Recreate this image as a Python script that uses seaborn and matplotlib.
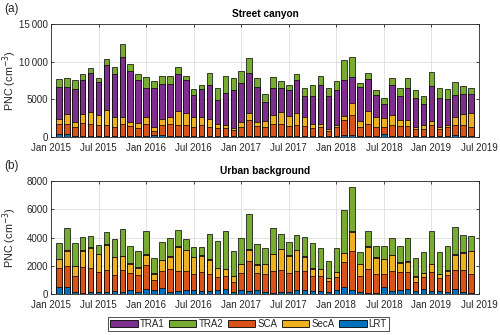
import numpy as np
import pandas as pd
import matplotlib.pyplot as plt
from matplotlib.patches import Patch
import seaborn as sns

# -------- data: monthly mean PNC contributions (cm-3), Jan 2015 - May 2019 --------
months = pd.date_range('2015-01-01', periods=53, freq='MS')

# street canyon
sc_lrt = [350, 350, 90, 90, 90, 90, 90, 130, 90, 130, 90, 180, 220, 310, 130, 180, 130, 180,
          130, 90, 130, 180, 90, 180, 180, 130, 90, 90, 130, 90, 130, 90, 90, 90, 90, 130,
          310, 310, 90, 90, 90, 350, 90, 130, 180, 130, 90, 180, 90, 130, 270, 90, 90]
sc_sca = [1330, 1420, 1190, 1770, 1680, 1460, 1460, 1150, 1590, 1370, 1060, 1590, 620, 1280,
          1640, 1410, 1420, 1150, 1460, 1280, 1020, 1010, 840, 1190, 2070, 1330, 1280, 1590,
          1550, 1410, 1420, 1410, 1150, 1190, 750, 1240, 1900, 2650, 1190, 1680, 1280, 930,
          1550, 1370, 1320, 890, 930, 1370, 970, 1200, 1320, 1550, 1280]
sc_seca = [710, 1280, 710, 1190, 1550, 1410, 2070, 1330, 970, 530, 750, 930, 530, 750, 880,
           1900, 1680, 1280, 1110, 1060, 620, 400, 310, 660, 930, 570, 800, 1240, 1590, 1280,
           1630, 1110, 480, 440, 220, 220, 570, 1550, 840, 1680, 1240, 1200, 1280, 750, 750,
           260, 530, 620, 310, 310, 1060, 1370, 1810]
sc_tra1 = [4280, 3620, 4330, 4460, 5170, 4380, 5970, 5790, 8000, 6770, 5610, 3840, 5170, 4640,
           4420, 4860, 4280, 3000, 3660, 4510, 3180, 4290, 5040, 5170, 5390, 4600, 2520, 3620,
           3270, 3410, 4330, 2780, 3760, 5220, 4420, 4600, 4780, 3490, 4550, 4240, 2960, 1940,
           3980, 3230, 4200, 3940, 2780, 4550, 3850, 3350, 2960, 2740, 2570]
sc_tra2 = [1020, 1200, 1190, 800, 700, 480, 840, 930, 1730, 920, 890, 1460, 890, 1110, 1020,
           890, 620, 710, 580, 1500, 1500, 2250, 1500, 1550, 1950, 1240, 970, 1420, 890, 710,
           890, 1060, 1420, 1150, 970, 1240, 2610, 2610, 530, 880, 710, 800, 880, 970, 1330,
           1060, 1060, 1940, 1230, 1370, 1730, 1060, 790]

# urban background
ub_lrt = [540, 470, 160, 70, 120, 120, 160, 210, 160, 260, 120, 350, 280, 400, 160, 210, 260,
          260, 190, 190, 260, 330, 140, 260, 210, 260, 140, 70, 120, 140, 280, 260, 190, 210,
          160, 260, 470, 280, 120, 90, 50, 470, 190, 280, 330, 210, 330, 190, 210, 120, 380,
          120, 70]
ub_sca = [1320, 1500, 1130, 1830, 1760, 1430, 1530, 1130, 1580, 1240, 1220, 1690, 750, 1270,
          1650, 1440, 1390, 1200, 1410, 1220, 940, 990, 730, 1220, 2160, 1240, 1290, 1600, 1620,
          1360, 1370, 1360, 1060, 1080, 760, 960, 1830, 2800, 1200, 1720, 1380, 940, 1480, 1290,
          1240, 660, 850, 1380, 920, 1220, 1310, 1620, 1390]
ub_seca = [610, 1120, 690, 1160, 1420, 1280, 1790, 1280, 950, 620, 520, 760, 410, 730, 830,
           1720, 1460, 1160, 1110, 1020, 640, 450, 380, 620, 760, 580, 690, 1160, 1440, 1230,
           1460, 1040, 540, 480, 190, 340, 600, 1320, 800, 1530, 1140, 1060, 1090, 670, 720,
           360, 310, 550, 290, 310, 1090, 1200, 1580]
ub_tra1 = [40, 40, 40, 40, 40, 40, 40, 40, 40, 100, 40, 40, 40, 40, 40, 40, 40, 40, 40, 40,
           40, 40, 40, 40, 40, 40, 40, 40, 40, 40, 40, 40, 40, 40, 40, 40, 40, 40, 40, 40, 40,
           40, 40, 40, 40, 40, 40, 40, 40, 40, 40, 40, 40]
ub_tra2 = [1130, 1550, 1580, 920, 800, 630, 870, 1240, 1900, 1200, 1160, 1650, 1080, 1270,
           1320, 1150, 750, 700, 610, 1810, 1900, 2660, 1790, 1860, 2490, 1430, 1130, 1830,
           1010, 920, 1060, 1370, 1810, 1430, 1180, 1640, 3030, 3150, 850, 1060, 820, 920, 1200,
           1150, 1620, 1320, 1430, 2330, 1550, 1690, 1970, 1230, 1010]

sources = ['LRT', 'SCA', 'SecA', 'TRA1', 'TRA2']   # bottom -> top
colors = {'TRA1': '#7E2F8E', 'TRA2': '#77AC30', 'SCA': '#D95319',
          'SecA': '#EDB120', 'LRT': '#0072BD'}
legend_order = ['TRA1', 'TRA2', 'SCA', 'SecA', 'LRT']

xtick_labels = ['Jan 2015', 'Jul 2015', 'Jan 2016', 'Jul 2016', 'Jan 2017', 'Jul 2017',
                'Jan 2018', 'Jul 2018', 'Jan 2019', 'Jul 2019']

# position of each bar in months since Jan 2015 (end of month)
pos = (months.year - 2015) * 12 + months.month

street = pd.DataFrame({'pos': pos, 'LRT': sc_lrt, 'SCA': sc_sca, 'SecA': sc_seca,
                       'TRA1': sc_tra1, 'TRA2': sc_tra2})
urban = pd.DataFrame({'pos': pos, 'LRT': ub_lrt, 'SCA': ub_sca, 'SecA': ub_seca,
                      'TRA1': ub_tra1, 'TRA2': ub_tra2})

# -------- plot --------
sns.set_theme(style='ticks')
plt.rcParams['font.family'] = ['Liberation Sans', 'DejaVu Sans']
axcol = '#262626'

fig = plt.figure(figsize=(5, 3.35), dpi=100)
ax1 = fig.add_axes([0.102, 0.591, 0.856, 0.337])
ax2 = fig.add_axes([0.102, 0.122, 0.856, 0.337])


def stacked(ax, df):
    cum = df[sources].cumsum(axis=1)
    # draw from the top of the stack down so lower parts overlay
    for src in sources[::-1]:
        sns.barplot(x=df['pos'], y=cum[src], native_scale=True, width=0.7,
                    color=colors[src], saturation=1, edgecolor='black',
                    linewidth=0.5, errorbar=None, ax=ax)


stacked(ax1, street)
stacked(ax2, urban)

for ax, ymax, yticks, ylabels, title, tag in [
        (ax1, 15000, [0, 5000, 10000, 15000], ['0', '5000', '10\u2009000', '15\u2009000'],
         'Street canyon', '(a)'),
        (ax2, 8000, [0, 2000, 4000, 6000, 8000], ['0', '2000', '4000', '6000', '8000'],
         'Urban background', '(b)')]:
    ax.set_xlim(0, 54)
    ax.set_ylim(0, ymax)
    ax.set_xticks(np.arange(0, 55, 6))
    ax.set_xticklabels(xtick_labels)
    ax.set_yticks(yticks)
    ax.set_yticklabels(ylabels)
    ax.set_xlabel('')
    ax.set_ylabel('PNC (cm$^{-3}$)', fontsize=7.8, color=axcol)
    ax.yaxis.set_label_coords(-0.075, 0.5)
    ax.set_title(title, fontsize=7.3, fontweight='bold', color='black', pad=5)
    ax.grid(True, color='#dddddd', linewidth=0.6)
    ax.set_axisbelow(True)
    ax.tick_params(direction='in', top=True, right=True, length=2.5, width=0.6,
                   labelsize=7, colors=axcol)
    ax.tick_params(axis='x', pad=4)
    ax.tick_params(axis='y', pad=2)
    for sp in ax.spines.values():
        sp.set_visible(True)
        sp.set_color(axcol)
        sp.set_linewidth(0.6)
    ax.text(-0.11, 1.19, tag, transform=ax.transAxes, fontsize=8.5, color=axcol,
            ha='left', va='top')

handles = [Patch(facecolor=colors[s], edgecolor='black', linewidth=0.6) for s in legend_order]
leg = fig.legend(handles, legend_order, loc='lower center', ncol=5,
                 bbox_to_anchor=(0.497, 0.005), fontsize=7, frameon=True,
                 fancybox=False, edgecolor='black', handlelength=2.8, handleheight=0.75,
                 handletextpad=0.2, columnspacing=0.5, borderpad=0.25, borderaxespad=0.2)
leg.get_frame().set_linewidth(0.6)

plt.savefig('out.png', dpi=100)
